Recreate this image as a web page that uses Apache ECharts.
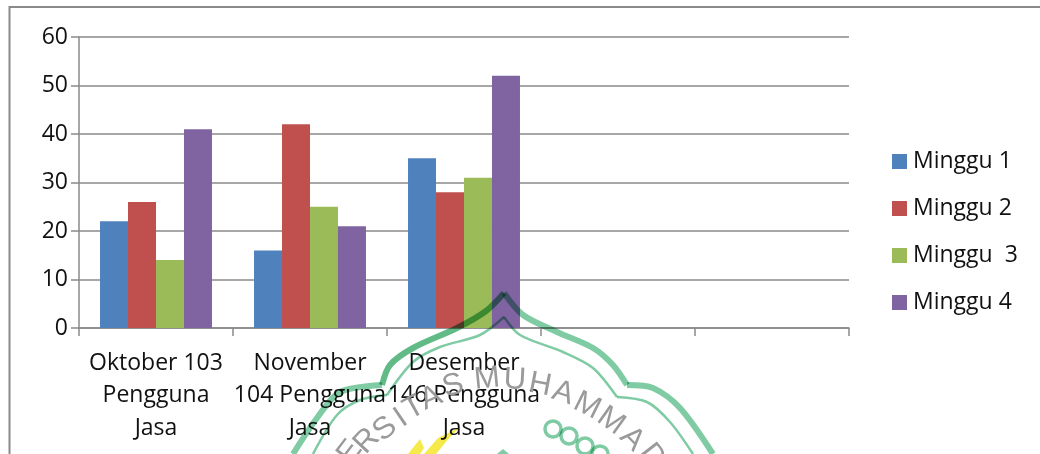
<!DOCTYPE html>
<html>
<head>
<meta charset="utf-8">
<style>html,body{margin:0;padding:0;background:#fff}#chart{width:1040px;height:454px}</style>
<script src="https://cdn.jsdelivr.net/npm/echarts@6/dist/echarts.min.js"></script>
</head>
<body>
<div id="chart"></div>
<script>
const categories = ['Oktober 103\nPengguna\nJasa', 'November\n104 Pengguna\nJasa', 'Desember\n146 Pengguna\nJasa', '', ''];
const minggu1 = [22, 16, 35, null, null];
const minggu2 = [26, 42, 28, null, null];
const minggu3 = [14, 25, 31, null, null];
const minggu4 = [41, 21, 52, null, null];
const seriesNames = ['Minggu 1', 'Minggu 2', 'Minggu  3', 'Minggu 4'];
const seriesColors = ['#4f81bd', '#c0504d', '#9bbb59', '#8064a2'];
const seriesValues = [minggu1, minggu2, minggu3, minggu4];

const font = '"Open Sans"';
const ink = '#111111';
const rule = '#8a8a8a';

// University seal printed behind the chart: arch outlines, curved name, beads and flame.
const sealGreen = '#7fcba4';
const sealGreenDeep = '#62bb87';
const archStrokes = [
  {points: [[504,293],[486,311],[457,328],[413,348],[390,365],[382,385]], color: sealGreenDeep, width: 6},
  {points: [[382,385],[340,392],[317,418],[293,454]], color: sealGreen, width: 6},
  {points: [[504,293],[523,315],[557,332],[593,348],[613,365],[627,385]], color: sealGreen, width: 6},
  {points: [[627,385],[653,388],[680,408],[713,454]], color: sealGreen, width: 6},
  {points: [[504,317],[480,335],[440,347],[413,362],[387,395]], color: sealGreen, width: 2.5},
  {points: [[387,395],[360,400],[337,415],[313,454]], color: sealGreen, width: 2.5},
  {points: [[504,317],[520,335],[563,352],[593,368],[617,397]], color: sealGreen, width: 2.5},
  {points: [[617,397],[647,402],[670,422],[693,454]], color: sealGreen, width: 2.5}
];
const sealLetters = [['E',350,452],['R',367,441],['S',385,429],['I',401,418],['T',414,408],['A',431,398],['S',453,386],['M',487,379],['U',515,380],['H',540,385],['A',563,393],['M',587,406],['M',611,421],['A',632,439],['D',652,456]];
const sealBeads = [[553,429],[569,436],[585,446],[600,454]];
const sealCentre = [505, 570];

function sealElements() {
  const blend = 'multiply';
  const items = archStrokes.map(a => ({
    type: 'polyline', silent: true, z: 100, shape: {points: a.points, smooth: 0.3},
    style: {fill: 'none', stroke: a.color, lineWidth: a.width, lineCap: 'butt', blend}
  }));
  items.push(
    {type: 'polygon', silent: true, z: 100, shape: {points: [[503,449],[509,454],[497,454]]},
     style: {fill: sealGreen, blend}},
    {type: 'polygon', silent: true, z: 100, shape: {points: [[424,454],[438,438],[460,427],[450,437],[436,454]]},
     style: {fill: '#f6ea4a', blend}},
    {type: 'polygon', silent: true, z: 100, shape: {points: [[408,454],[420,439],[424,448],[420,454]]},
     style: {fill: '#f6ea4a', blend}}
  );
  sealBeads.forEach(([x, y]) => items.push({
    type: 'circle', silent: true, z: 100, shape: {cx: x, cy: y, r: 8},
    style: {fill: 'none', stroke: sealGreen, lineWidth: 3.5, blend}
  }));
  sealLetters.forEach(([ch, x, y]) => items.push({
    type: 'text', silent: true, z: 100, x, y,
    rotation: -Math.atan2(x - sealCentre[0], sealCentre[1] - y),
    style: {text: ch, fill: '#9a9a9a', font: '31px "Liberation Sans"', align: 'center', verticalAlign: 'middle', blend}
  }));
  return items;
}

const chart = echarts.init(document.getElementById('chart'), null, {renderer: 'canvas'});
chart.setOption({
  animation: false,
  backgroundColor: '#ffffff',
  grid: {left: 79, top: 37, width: 770, height: 291, containLabel: false},
  legend: {
    orient: 'vertical', left: 892, top: 150, padding: 0, itemWidth: 15, itemHeight: 15, itemGap: 24,
    textStyle: {fontFamily: font, fontSize: 23, color: ink, padding: [0, 0, 0, 1]},
    data: seriesNames.map((name, i) => ({name, icon: 'rect', itemStyle: {color: seriesColors[i]}}))
  },
  xAxis: {
    type: 'category', data: categories,
    axisLine: {lineStyle: {color: rule, width: 1.5}},
    axisTick: {show: true, alignWithLabel: false, length: 8, lineStyle: {color: rule, width: 1.5}},
    axisLabel: {interval: 0, margin: 19, fontFamily: font, fontSize: 23, lineHeight: 32.5, color: ink}
  },
  yAxis: {
    type: 'value', min: 0, max: 60, interval: 10,
    axisLine: {show: true, lineStyle: {color: rule, width: 1.5}},
    axisTick: {show: true, length: 8, lineStyle: {color: rule, width: 1.5}},
    axisLabel: {margin: 11, fontFamily: font, fontSize: 23, color: ink},
    splitLine: {lineStyle: {color: rule, width: 1.5}}
  },
  series: seriesNames.map((name, i) => ({
    name, type: 'bar', data: seriesValues[i], barGap: 0, barCategoryGap: '27.3%',
    itemStyle: {color: seriesColors[i]}
  })),
  graphic: [
    {type: 'rect', silent: true, z: -1, shape: {x: 9.5, y: 7, width: 1100, height: 600},
     style: {fill: 'none', stroke: '#8a8a8a', lineWidth: 2}}
  ].concat(sealElements())
});
</script>
</body>
</html>
